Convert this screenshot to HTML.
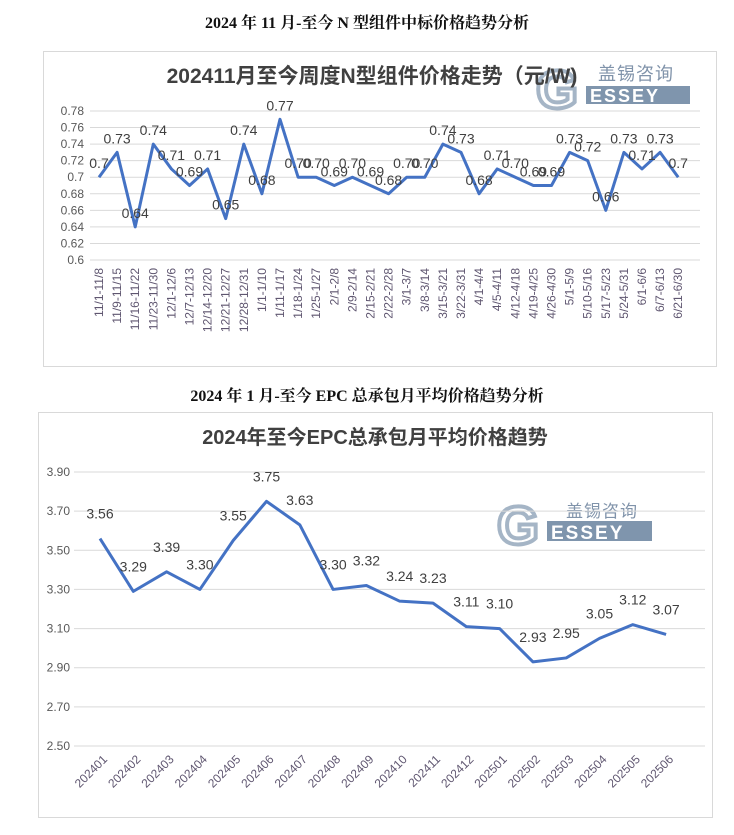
<!DOCTYPE html>
<html><head><meta charset="utf-8"><style>
body{margin:0;background:#fff;width:734px;height:835px;overflow:hidden}
svg{display:block}
</style></head><body>
<svg width="734" height="835" xmlns="http://www.w3.org/2000/svg" font-family="Liberation Sans, 'Noto Sans CJK SC', sans-serif">
<text x="367" y="28" text-anchor="middle" font-family="Liberation Serif, 'Noto Serif CJK SC', serif" font-weight="bold" font-size="16" fill="#111">2024 年 11 月-至今 N 型组件中标价格趋势分析</text>
<rect x="43.5" y="51.5" width="673" height="315" fill="#fff" stroke="#d9d9d9"/>
<text x="536" y="108" font-size="54" font-weight="bold" fill="none" stroke="#8fa3b8" stroke-width="4" opacity="0.8">G</text>
<rect x="586" y="86" width="104" height="18" fill="#7f95ad"/>
<text x="590" y="102" font-size="18" font-weight="bold" fill="#fff" letter-spacing="2">ESSEY</text>
<text x="598" y="80" font-size="18" fill="#8093aa" letter-spacing="1">盖锡咨询</text>
<text x="372" y="83" text-anchor="middle" font-weight="bold" font-size="21" fill="#404040">202411月至今周度N型组件价格走势（元/W)</text>
<g id="top" font-size="12" fill="#595959"></g>
<text x="367" y="401" text-anchor="middle" font-family="Liberation Serif, 'Noto Serif CJK SC', serif" font-weight="bold" font-size="16" fill="#111">2024 年 1 月-至今 EPC 总承包月平均价格趋势分析</text>
<rect x="38.5" y="412.5" width="674" height="405" fill="#fff" stroke="#d9d9d9"/>
<text x="375" y="444" text-anchor="middle" font-weight="bold" font-size="20" fill="#404040">2024年至今EPC总承包月平均价格趋势</text>
<text x="497" y="544" font-size="54" font-weight="bold" fill="none" stroke="#8fa3b8" stroke-width="4" opacity="0.8">G</text>
<rect x="547" y="521" width="105" height="20" fill="#7f95ad"/>
<text x="551" y="539" font-size="19" font-weight="bold" fill="#fff" letter-spacing="2">ESSEY</text>
<text x="566" y="517" font-size="17" fill="#8093aa" letter-spacing="1">盖锡咨询</text>
<g id="bot"></g>
</svg>
<script>
const NS="http://www.w3.org/2000/svg";
function el(p,t,a,txt){const e=document.createElementNS(NS,t);for(const k in a)e.setAttribute(k,a[k]);if(txt!=null)e.textContent=txt;p.appendChild(e);return e;}
const g=document.getElementById('top');
const yt=v=>260-(v-0.6)/0.18*149;
for(let i=0;i<=9;i++){const v=0.6+i*0.02,y=yt(v);el(g,'line',{x1:90,x2:700,y1:y,y2:y,stroke:'#d9d9d9'});
el(g,'text',{x:84,y:y+4,'text-anchor':'end','font-size':12,fill:'#595959'},i==0?'0.6':(i==5?'0.7':v.toFixed(2)));}
const L=["11/1-11/8","11/9-11/15","11/16-11/22","11/23-11/30","12/1-12/6","12/7-12/13","12/14-12/20","12/21-12/27","12/28-12/31","1/1-1/10","1/11-1/17","1/18-1/24","1/25-1/27","2/1-2/8","2/9-2/14","2/15-2/21","2/22-2/28","3/1-3/7","3/8-3/14","3/15-3/21","3/22-3/31","4/1-4/4","4/5-4/11","4/12-4/18","4/19-4/25","4/26-4/30","5/1-5/9","5/10-5/16","5/17-5/23","5/24-5/31","6/1-6/6","6/7-6/13","6/21-6/30"];
const V=[0.7,0.73,0.64,0.74,0.71,0.69,0.71,0.65,0.74,0.68,0.77,0.70,0.70,0.69,0.70,0.69,0.68,0.70,0.70,0.74,0.73,0.68,0.71,0.70,0.69,0.69,0.73,0.72,0.66,0.73,0.71,0.73,0.7];
const S=["0.7","0.73","0.64","0.74","0.71","0.69","0.71","0.65","0.74","0.68","0.77","0.70","0.70","0.69","0.70","0.69","0.68","0.70","0.70","0.74","0.73","0.68","0.71","0.70","0.69","0.69","0.73","0.72","0.66","0.73","0.71","0.73","0.7"];
const xt=i=>99+i*18.1;
let d='';V.forEach((v,i)=>{d+=(i?'L':'M')+xt(i)+' '+yt(v);});
el(g,'path',{d:d,fill:'none',stroke:'#4472c4','stroke-width':3,'stroke-linejoin':'round'});
V.forEach((v,i)=>{const x=xt(i);
el(g,'text',{x:x,y:yt(v)-9,'text-anchor':'middle','font-size':14,fill:'#404040'},S[i]);
el(g,'text',{transform:`translate(${x+4},268) rotate(-90)`,'text-anchor':'end','font-size':12,fill:'#5f5670'},L[i]);});
const b=document.getElementById('bot');
const yb=v=>746-(v-2.5)/1.4*274;
for(let i=0;i<=7;i++){const v=2.5+i*0.2,y=yb(v);el(b,'line',{x1:74,x2:705,y1:y,y2:y,stroke:'#d9d9d9'});
el(b,'text',{x:70,y:y+4,'text-anchor':'end','font-size':12,fill:'#595959'},v.toFixed(2));}
const BL=["202401","202402","202403","202404","202405","202406","202407","202408","202409","202410","202411","202412","202501","202502","202503","202504","202505","202506"];
const BV=[3.56,3.29,3.39,3.30,3.55,3.75,3.63,3.30,3.32,3.24,3.23,3.11,3.10,2.93,2.95,3.05,3.12,3.07];
const xb=i=>100+i*33.3;
d='';BV.forEach((v,i)=>{d+=(i?'L':'M')+xb(i)+' '+yb(v);});
el(b,'path',{d:d,fill:'none',stroke:'#4472c4','stroke-width':3,'stroke-linejoin':'round'});
BV.forEach((v,i)=>{const x=xb(i);
el(b,'text',{x:x,y:yb(v)-20,'text-anchor':'middle','font-size':14,fill:'#404040'},v.toFixed(2));
el(b,'text',{transform:`translate(${x+8},760) rotate(-45)`,'text-anchor':'end','font-size':12,fill:'#5f5670'},BL[i]);});
</script>
</body></html>
